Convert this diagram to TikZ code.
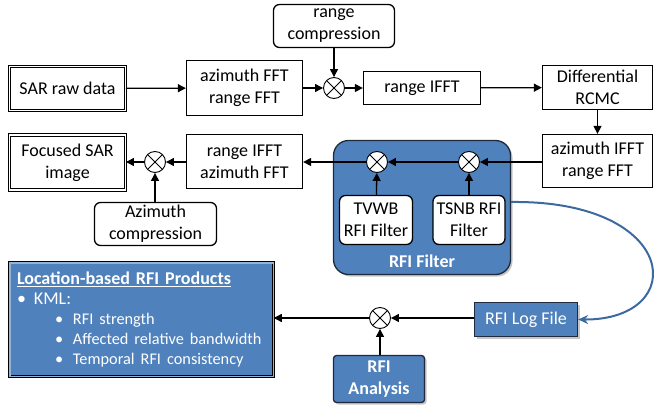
\documentclass[tikz,border=0pt]{standalone}
\usepackage{fontspec}
\setmainfont{Carlito}
\usetikzlibrary{arrows.meta,shadows}

\definecolor{rfiblue}{HTML}{4F81BD}
\definecolor{rfiedge}{HTML}{1F2A3C}
\definecolor{curveblue}{HTML}{3C6AA0}

\tikzset{
  blk/.style={draw=black,line width=1.3pt,fill=white,align=center,inner sep=2pt},
  rnd/.style={blk,rounded corners=6pt},
  rawbox/.style={draw=black,line width=0.9pt,double=white,double distance=1.6pt,fill=white,align=center,inner sep=2pt},
  mult/.style={circle,draw=black,line width=0.9pt,fill=white,minimum size=21pt,inner sep=0pt,
    path picture={\draw[line width=0.9pt] (path picture bounding box.south west)--(path picture bounding box.north east)
      (path picture bounding box.north west)--(path picture bounding box.south east);}},
  bluebox/.style={draw=rfiedge,line width=1.3pt,fill=rfiblue,text=white,align=center,inner sep=2pt,
    drop shadow={shadow xshift=2pt,shadow yshift=-2pt,opacity=0.45}},
  flow/.style={line width=1.3pt,-{Triangle[length=8pt,width=8pt]}},
}

\begin{document}
\begin{tikzpicture}[x=1pt,y=-1pt,font=\fontsize{18}{22}\selectfont]
   \useasboundingbox (0,0) rectangle (655,409);
   \node[rawbox,minimum width=116pt,minimum height=44pt] (raw) at (67.5,88.5) {SAR raw data};
   \node[blk,minimum width=116pt,minimum height=55pt] (azfft) at (244.5,88) {azimuth FFT\\range FFT};
   \node[rnd,minimum width=121pt,minimum height=43pt] (rcomp) at (334,26) {range\\compression};
   \node[mult] (m1) at (334,88) {};
   \node[blk,minimum width=117pt,minimum height=33pt] (rifft) at (422,88) {range IFFT};
   \node[blk,minimum width=110pt,minimum height=44pt] (rcmc) at (597.5,87.5) {Differential\\RCMC};
   \node[blk,minimum width=110pt,minimum height=53pt] (aziffts) at (597.5,161) {azimuth IFFT\\range FFT};
   \node[bluebox,rounded corners=15pt,minimum width=177pt,minimum height=134pt] (filter) at (422,207.5) {};
   \node[mult] (m2) at (377,162) {};
   \node[mult] (m3) at (469,162) {};
   \node[rnd,minimum width=73pt,minimum height=49pt,inner sep=1pt] (tvwb) at (376,220) {TVWB\\RFI Filter};
   \node[rnd,minimum width=72pt,minimum height=49pt,inner sep=1pt] (tsnb) at (469,220) {TSNB RFI\\Filter};
   \node[text=white,font=\fontsize{18}{22}\selectfont\bfseries] (filtlabel) at (422,261) {RFI Filter};
   \node[blk,minimum width=116pt,minimum height=54pt] (riafft) at (244.5,161.5) {range IFFT\\azimuth FFT};
   \node[mult] (m4) at (155,162) {};
   \node[rawbox,minimum width=116pt,minimum height=55pt] (focused) at (67.5,162.5) {Focused SAR\\image};
   \node[rnd,minimum width=122pt,minimum height=43pt] (azcomp) at (155.5,224) {Azimuth\\compression};
   \node[bluebox,draw=black,double=rfiblue!60!white,line width=0.9pt,double distance=1.6pt,
     minimum width=263.6pt,minimum height=113.6pt,text width=249pt,inner xsep=7.3pt,align=left,
     font=\fontsize{18}{20}\selectfont] (products) at (141.5,319.5)
     {\textbf{\underline{Location-based RFI Products}}\\
      \makebox[17pt][l]{\textbullet}KML:\\
      {\fontsize{16.3}{19.5}\selectfont\hspace{38pt}\makebox[18pt][l]{\textbullet}RFI strength}\\
      {\fontsize{16.3}{19.5}\selectfont\hspace{38pt}\makebox[18pt][l]{\textbullet}Affected relative bandwidth}\\
      {\fontsize{16.3}{19.5}\selectfont\hspace{38pt}\makebox[18pt][l]{\textbullet}Temporal RFI consistency}};
   \node[bluebox,minimum width=103pt,minimum height=34pt] (logfile) at (526,319.5) {RFI Log File};
   \node[mult] (m5) at (380,318) {};
   \node[bluebox,rounded corners=3pt,minimum width=91pt,minimum height=47pt,font=\fontsize{18}{22}\selectfont\bfseries] (analysis) at (379,379) {RFI\\Analysis};
   \draw[flow] (raw) -- (azfft);
   \draw[flow] (azfft) -- (m1);
   \draw[flow] (rcomp) -- (m1);
   \draw[flow] (m1) -- (rifft);
   \draw[flow] (rifft) -- (rcmc);
   \draw[flow] (rcmc) -- (aziffts);
   \draw[flow] (m3 -| aziffts.west) -- (m3);
   \draw[flow] (m3) -- (m2);
   \draw[flow] (m2) -- (m2 -| riafft.east);
   \draw[flow] (tvwb) -- (m2);
   \draw[flow] (tsnb) -- (m3);
   \draw[flow] (riafft.west |- m4) -- (m4);
   \draw[flow] (m4) -- (m4 -| focused.east);
   \draw[flow] (azcomp.north -| m4) -- (m4);
   \draw[flow] (logfile.west |- m5) -- (m5);
   \draw[flow] (analysis.north -| m5) -- (m5);
   \draw[flow] (m5) -- (m5 -| products.east);
   \draw[curveblue,line width=2pt,-{Stealth[length=10pt,width=9pt]}] ([yshift=5.5pt]filter.east) .. controls (680,200) and (690,320) .. (logfile.east);
  \end{tikzpicture}
\end{document}
